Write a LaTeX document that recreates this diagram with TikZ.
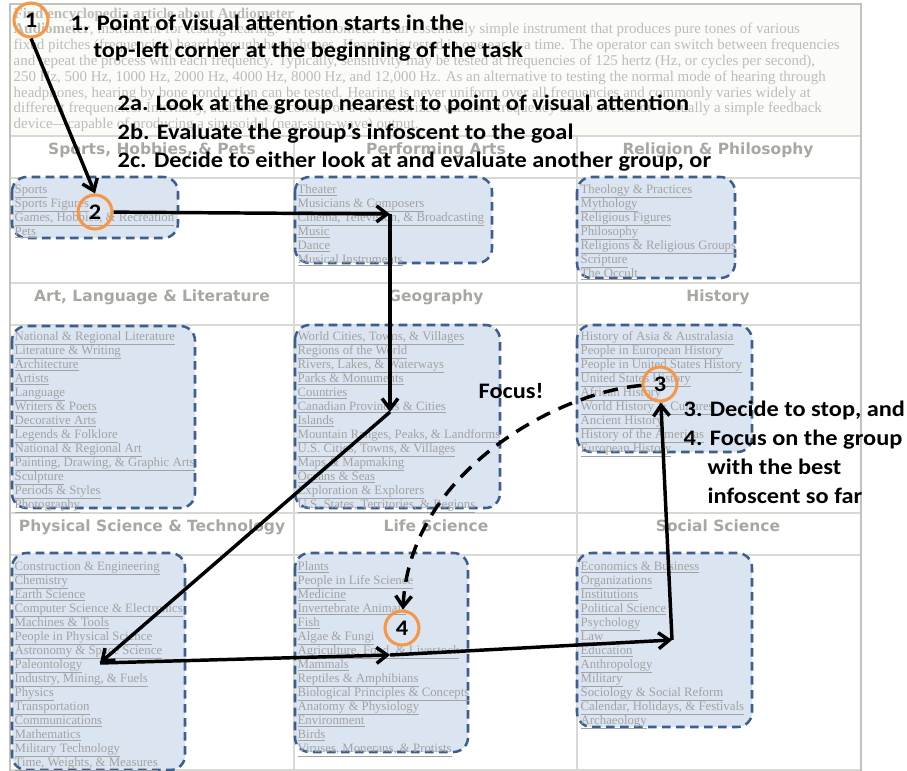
\documentclass[tikz,border=0pt]{standalone}
\usepackage{fontspec}
\setmainfont{Liberation Serif}
\newfontfamily\headfont{DejaVu Sans}
\newfontfamily\notefont{Carlito}[FakeStretch=1.1]
\usetikzlibrary{arrows.meta}
\definecolor{pagegray}{HTML}{BCBCB8}
\definecolor{pagefill}{HTML}{FBFBF8}
\definecolor{linkgray}{HTML}{A2A2A0}
\definecolor{headgray}{HTML}{A8A8A2}
\definecolor{gridgray}{HTML}{D8D8D4}
\definecolor{framegray}{HTML}{C2C2BE}
\definecolor{groupfill}{HTML}{DBE5F1}
\definecolor{groupedge}{HTML}{3D5F8E}
\definecolor{eyeorange}{HTML}{F79646}

\begin{document}
\begin{tikzpicture}[
  x=0.75pt, y=-0.75pt,
  line width=1pt,
  every node/.style={inner sep=0pt},
  article/.style={anchor=base west, text=pagegray, font=\fontsize{11.2}{12}\selectfont},
  heading/.style={anchor=base, text=headgray, font=\headfont\bfseries\fontsize{11.6}{13}\selectfont},
  link/.style={anchor=base west, text=linkgray, font=\fontsize{9.6}{10}\selectfont},
  group/.style={draw=groupedge, fill=groupfill, line width=1.9pt,
    dash pattern=on 6.5pt off 4pt, rounded corners=11pt},
  note/.style={anchor=base west, font=\notefont\bfseries\fontsize{16.6}{19}\selectfont},
  eye/.style={circle, draw=eyeorange, line width=2.3pt, minimum size=25.5pt,
    font=\notefont\bfseries\fontsize{16.6}{19}\selectfont},
  move/.style={line width=2.6pt, -{Straight Barb[length=8pt,width=12pt]}},
  focus/.style={move, dash pattern=on 11pt off 7pt}
]
\fill[white] (0,0) rectangle (907,771);
\useasboundingbox (0,0) rectangle (907,771);
% article at the top
\fill[pagefill] (10,4) rectangle (861,136);
\foreach \t [count=\i] in {
  \textbf{Find encyclopedia article about Audiometer},
  {\textbf{Audiometer}, instrument for testing hearing. The audiometer is an essentially simple instrument that produces pure tones of various},
  {fixed pitches (frequencies) heard through headphones. Hearing is tested in one ear at a time. The operator can switch between frequencies},
  {and repeat the process with each frequency. Typically, sensitivity may be tested at frequencies of 125 hertz (Hz, or cycles per second),},
  {250 Hz, 500 Hz, 1000 Hz, 2000 Hz, 4000 Hz, 8000 Hz, and 12,000 Hz. As an alternative to testing the normal mode of hearing through},
  {headphones, hearing by bone conduction can be tested. Hearing is never uniform over all frequencies and commonly varies widely at},
  {different frequencies. Internally, audiometers consist of a transistorized variable-frequency audio oscillator—usually a simple feedback},
  {device—capable of producing a sinusoidal (near-sine-wave) output.}}
  \node[article] (article\i) at (13,{18+15.8*(\i-1)}) {\t};
% grid of categories
\foreach \y in {136,178,283,325,513,555,770}
  \draw[gridgray, line width=1.2pt] (10,\y) -- (861,\y);
\foreach \x in {294,577}
  \draw[gridgray, line width=1.2pt] (\x,136) -- (\x,771);
\draw[framegray, line width=1.6pt] (10,771) -- (10,4) -- (861,4) -- (861,771);
\node[heading] (headSports)   at (152,154) {Sports, Hobbies, \& Pets};
\node[heading] (headPerform)  at (436,154) {Performing Arts};
\node[heading] (headReligion) at (718,154) {Religion \& Philosophy};
\node[heading] (headArt)      at (152,301) {Art, Language \& Literature};
\node[heading] (headGeo)      at (436,301) {Geography};
\node[heading] (headHistory)  at (718,301) {History};
\node[heading] (headPhysical) at (152,531) {Physical Science \& Technology};
\node[heading] (headLife)     at (436,531) {Life Science};
\node[heading] (headSocial)   at (718,531) {Social Science};
% groups
\draw[group] (12,177) rectangle (178,238);
\draw[group] (295,177) rectangle (492,263);
\draw[group] (577,177) rectangle (735,278);
\draw[group] (12,326) rectangle (195,508);
\draw[group] (295,325) rectangle (500,508);
\draw[group] (577,325) rectangle (752,452);
\draw[group] (12,553) rectangle (185,770);
\draw[group] (295,553) rectangle (468,752);
\draw[group] (577,553) rectangle (752,727);
% links in each group
\foreach \t [count=\i] in {Sports, Sports Figures, {Games, Hobbies, \& Recreation}, Pets}
  \node[link] (sports\i) at (14,{193+14*(\i-1)}) {\underline{\t}};
\foreach \t [count=\i] in {Theater, Musicians \& Composers, {Cinema, Television, \& Broadcasting},
    Music, Dance, Musical Instruments}
  \node[link] (perform\i) at (297,{193+14*(\i-1)}) {\underline{\t}};
\foreach \t [count=\i] in {Theology \& Practices, Mythology, Religious Figures, Philosophy,
    Religions \& Religious Groups, Scripture, The Occult}
  \node[link] (religion\i) at (580,{193+14*(\i-1)}) {\underline{\t}};
\foreach \t [count=\i] in {National \& Regional Literature, Literature \& Writing, Architecture,
    Artists, Language, Writers \& Poets, Decorative Arts, Legends \& Folklore,
    National \& Regional Art, {Painting, Drawing, \& Graphic Arts}, Sculpture,
    Periods \& Styles, Photography}
  \node[link] (art\i) at (14,{340+14*(\i-1)}) {\underline{\t}};
\foreach \t [count=\i] in {{World Cities, Towns, \& Villages}, Regions of the World,
    {Rivers, Lakes, \& Waterways}, Parks \& Monuments, Countries, Canadian Provinces \& Cities,
    Islands, {Mountain Ranges, Peaks, \& Landforms}, {U.S. Cities, Towns, \& Villages},
    Maps \& Mapmaking, Oceans \& Seas, Exploration \& Explorers,
    {U.S. States, Territories, \& Regions}}
  \node[link] (geo\i) at (297,{340+14*(\i-1)}) {\underline{\t}};
\foreach \t [count=\i] in {History of Asia \& Australasia, People in European History,
    People in United States History, United States History, African History,
    World History \& Cultures, Ancient History, History of the Americas, European History}
  \node[link] (history\i) at (580,{340+14*(\i-1)}) {\underline{\t}};
\foreach \t [count=\i] in {Construction \& Engineering, Chemistry, Earth Science,
    Computer Science \& Electronics, Machines \& Tools, People in Physical Science,
    Astronomy \& Space Science, Paleontology, {Industry, Mining, \& Fuels}, Physics,
    Transportation, Communications, Mathematics, Military Technology,
    {Time, Weights, \& Measures}}
  \node[link] (physical\i) at (14,{570+14*(\i-1)}) {\underline{\t}};
\foreach \t [count=\i] in {Plants, People in Life Science, Medicine, Invertebrate Animals,
    Fish, Algae \& Fungi, {Agriculture, Food, \& Livestock}, Mammals,
    Reptiles \& Amphibians, Biological Principles \& Concepts, Anatomy \& Physiology,
    Environment, Birds, {Viruses, Monerans, \& Protists}}
  \node[link] (life\i) at (297,{570+14*(\i-1)}) {\underline{\t}};
\foreach \t [count=\i] in {Economics \& Business, Organizations, Institutions,
    Political Science, Psychology, Law, Education, Anthropology, Military,
    Sociology \& Social Reform, {Calendar, Holidays, \& Festivals}, Archaeology}
  \node[link] (social\i) at (580,{570+14*(\i-1)}) {\underline{\t}};
% steps of the model
\node[note] (step1)  at (70,31)  {1. Point of visual attention starts in the};
\node[note] (step1b) at (93,57)  {top-left corner at the beginning of the task};
\node[note] (step2a) at (117,110) {2a. Look at the group nearest to point of visual attention};
\node[note] (step2b) at (117,139) {2b. Evaluate the group’s infoscent to the goal};
\node[note] (step2c) at (117,167) {2c. Decide to either look at and evaluate another group, or};
\node[note] (step3)  at (683,416) {3. Decide to stop, and};
\node[note] (step4)  at (683,445) {4. Focus on the group};
\node[note] (step4b) at (707,474) {with the best};
\node[note] (step4c) at (707,503) {infoscent so far};
\node[note] (focusText) at (478,398) {Focus!};
% points of visual attention
\node[eye] (eye1) at (31,20)   {1};
\node[eye] (eye2) at (95,212)  {2};
\node[eye] (eye3) at (660,384) {3};
\node[eye] (eye4) at (402,628) {4};
\coordinate (turn1) at (390,214);
\coordinate (turn2) at (390,412);
\coordinate (turn3) at (100,663);
\coordinate (turn4) at (390,655);
\coordinate (turn5) at (672,640);
\draw[move] (eye1.south) -- (eye2.north);
\draw[move] (eye2) -- (turn1);
\draw[move] (turn1) -- (turn2);
\draw[move] (turn2) -- (turn3);
\draw[move] (turn3) -- (turn4);
\draw[move] (turn4) -- (turn5);
\draw[move] (turn5) -- (eye3);
\draw[focus] (eye3) .. controls (560,392) and (410,470) .. (eye4);
\end{tikzpicture}
\end{document}
